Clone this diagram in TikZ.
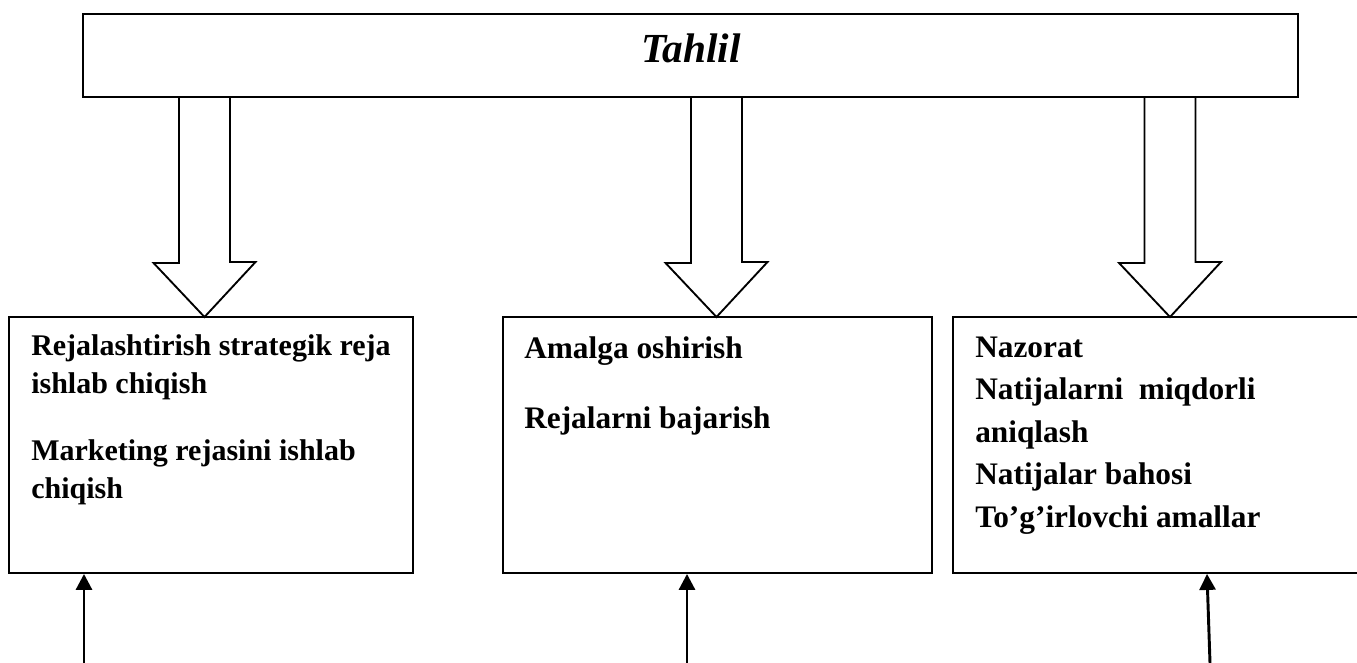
\documentclass[tikz,border=0pt]{standalone}
\usepackage{fontspec}
\setmainfont{Liberation Serif}
\usetikzlibrary{arrows.meta}
\begin{document}
\begin{tikzpicture}[x=0.75pt,y=-0.75pt,
  frame/.style={draw, line width=1.4pt, rectangle, inner sep=0pt},
  blockarrow/.style={draw, line width=1.4pt, line join=miter},
  feed/.style={draw, line width=2.2pt, -{Triangle[length=12pt,width=12pt]}},
  txt/.style={anchor=base west, inner sep=0pt, font=\fontsize{23.5}{28}\selectfont\bfseries},
  smalltxt/.style={txt, font=\fontsize{22.5}{27}\selectfont\bfseries}]
\useasboundingbox (0,0) rectangle (1357,663);

% top box
\node[frame, minimum width=911.25pt, minimum height=62.25pt] (top) at (690.5,55.5) {};
\node[anchor=base, inner sep=0pt, font=\fontsize{31}{36}\selectfont\bfseries\itshape] (title) at (691,63) {Tahlil};

% three lower boxes
\node[frame, minimum width=303pt, minimum height=192pt] (b1) at (211,445) {};
\node[frame, minimum width=321.75pt, minimum height=192pt] (b2) at (717.5,445) {};
\node[frame, minimum width=312.75pt, minimum height=192pt] (b3) at (1161.5,445) {};

% block arrows from the top box
\coordinate (tip1) at (204.5,317);
\coordinate (tip2) at (716.5,317);
\coordinate (tip3) at (1170,317);
\foreach \t in {tip1,tip2,tip3}
  \draw[blockarrow] (\t |- top.south) ++(-25.5,0) -- ++(0,165) -- ++(-25.5,0)
    -- (\t) -- ++(51,-55) -- ++(-25.5,0) -- ++(0,-165);

% box texts
\node[smalltxt] (l11) at (31,355) {Rejalashtirish strategik reja};
\node[smalltxt] (l12) at (31,393) {ishlab chiqish};
\node[smalltxt] (l13) at (31,460) {Marketing rejasini ishlab};
\node[smalltxt] (l14) at (31,498) {chiqish};

\node[txt] (l21) at (524,358) {Amalga oshirish};
\node[txt] (l22) at (524,428) {Rejalarni bajarish};

\node[txt] (l31) at (975,357) {Nazorat};
\node[txt] (l32) at (975,399) {Natijalarni\ \ miqdorli};
\node[txt] (l33) at (975,442) {aniqlash};
\node[txt] (l34) at (975,484) {Natijalar bahosi};
\node[txt] (l35) at (975,527) {To’g’irlovchi amallar};

% incoming arrows from below
\coordinate (in1) at (84,663);
\coordinate (in2) at (687,663);
\coordinate (in3) at (1210,663);
\draw[feed] (in1) -- (in1 |- b1.south);
\draw[feed] (in2) -- (in2 |- b2.south);
\draw[feed] (in3) -- (1207,0 |- b3.south);
\end{tikzpicture}
\end{document}
